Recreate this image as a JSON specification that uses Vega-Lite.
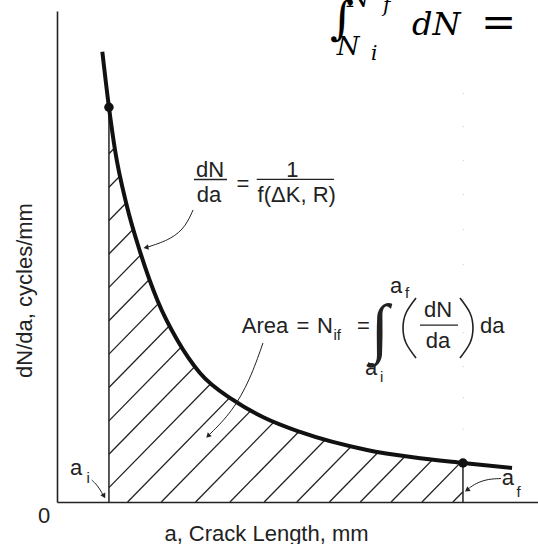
{
  "$schema": "https://vega.github.io/schema/vega-lite/v6.json",
  "width": 481,
  "height": 491,
  "autosize": {"type": "none"},
  "padding": {"left": 57, "top": 11, "right": 0, "bottom": 42},
  "config": {"view": {"stroke": null}, "font": "Liberation Sans", "text": {"color": "#222"}},
  "datasets": {
    "curve": [
      {"x": 4.71, "y": 45.86}, {"x": 5.4, "y": 40.2}, {"x": 6.03, "y": 35.85}, {"x": 7.25, "y": 30.2},
      {"x": 8.63, "y": 25.5}, {"x": 10.5, "y": 20.4}, {"x": 12.5, "y": 16.5}, {"x": 14.86, "y": 13.14},
      {"x": 18.3, "y": 10.39}, {"x": 21.5, "y": 8.6}, {"x": 25.26, "y": 7.13}, {"x": 32.22, "y": 5.3},
      {"x": 37.0, "y": 4.55}, {"x": 42.2, "y": 3.97}, {"x": 47.3, "y": 3.46}
    ],
    "hatch": [
      {"x": 7.34, "y": 0, "x2": 42.2, "y2": 34.86}, {"x": 10.84, "y": 0, "x2": 42.2, "y2": 31.36},
      {"x": 14.41, "y": 0, "x2": 42.2, "y2": 27.79}, {"x": 17.98, "y": 0, "x2": 42.2, "y2": 24.22},
      {"x": 21.54, "y": 0, "x2": 42.2, "y2": 20.66}, {"x": 24.93, "y": 0, "x2": 42.2, "y2": 17.27},
      {"x": 28.32, "y": 0, "x2": 42.2, "y2": 13.88}, {"x": 31.53, "y": 0, "x2": 42.2, "y2": 10.67},
      {"x": 34.73, "y": 0, "x2": 42.2, "y2": 7.47}, {"x": 37.94, "y": 0, "x2": 42.2, "y2": 4.26},
      {"x": 41.15, "y": 0, "x2": 42.2, "y2": 1.05},
      {"x": 5.4, "y": 1.46, "x2": 42.2, "y2": 38.26}, {"x": 5.4, "y": 4.86, "x2": 42.2, "y2": 41.66},
      {"x": 5.4, "y": 8.26, "x2": 41.14, "y2": 44}, {"x": 5.4, "y": 11.66, "x2": 37.74, "y2": 44},
      {"x": 5.4, "y": 15.06, "x2": 34.34, "y2": 44}, {"x": 5.4, "y": 18.46, "x2": 30.94, "y2": 44},
      {"x": 5.4, "y": 21.86, "x2": 27.54, "y2": 44}, {"x": 5.4, "y": 25.26, "x2": 24.14, "y2": 44},
      {"x": 5.4, "y": 28.66, "x2": 20.74, "y2": 44}, {"x": 5.4, "y": 32.06, "x2": 17.34, "y2": 44},
      {"x": 5.4, "y": 35.46, "x2": 13.94, "y2": 44}, {"x": 5.4, "y": 38.86, "x2": 10.54, "y2": 44}
    ],
    "limits": [
      {"x": 5.4, "y": 40.2, "y0": 0, "name": "ai"}, {"x": 42.2, "y": 3.97, "y0": 0, "name": "af"}
    ],
    "arrows": [
      {"id": 1, "i": 0, "x": 3.61, "y": 2.24}, {"id": 1, "i": 1, "x": 4.16, "y": 1.73}, {"id": 1, "i": 2, "x": 4.57, "y": 1.12}, {"id": 1, "i": 3, "x": 4.89, "y": 0.51},
      {"id": 2, "i": 0, "x": 46.15, "y": 2.39}, {"id": 2, "i": 1, "x": 44.8, "y": 2.34}, {"id": 2, "i": 2, "x": 43.56, "y": 1.93}, {"id": 2, "i": 3, "x": 42.72, "y": 1.32},
      {"id": 3, "i": 0, "x": 14.14, "y": 29.74}, {"id": 3, "i": 1, "x": 13.41, "y": 28.11}, {"id": 3, "i": 2, "x": 11.95, "y": 26.78}, {"id": 3, "i": 3, "x": 9.46, "y": 25.97},
      {"id": 4, "i": 0, "x": 21.41, "y": 16.19}, {"id": 4, "i": 1, "x": 20.06, "y": 12.42}, {"id": 4, "i": 2, "x": 18.19, "y": 9.16}, {"id": 4, "i": 3, "x": 15.9, "y": 6.92}
    ],
    "heads": [
      {"x": 4.89, "y": 0.61, "dir": 150}, {"x": 42.62, "y": 1.22, "dir": 235},
      {"x": 9.25, "y": 25.92, "dir": 260}, {"x": 15.7, "y": 6.72, "dir": 225}
    ],
    "parens": [
      {"id": "l", "i": 0, "x": 37.32, "y": 20.77}, {"id": "l", "i": 1, "x": 36.28, "y": 19.25}, {"id": "l", "i": 2, "x": 35.97, "y": 17.72}, {"id": "l", "i": 3, "x": 36.28, "y": 16.19}, {"id": "l", "i": 4, "x": 37.32, "y": 14.66},
      {"id": "r", "i": 0, "x": 41.89, "y": 20.77}, {"id": "r", "i": 1, "x": 42.93, "y": 19.25}, {"id": "r", "i": 2, "x": 43.24, "y": 17.72}, {"id": "r", "i": 3, "x": 42.93, "y": 16.19}, {"id": "r", "i": 4, "x": 41.89, "y": 14.66}
    ],
    "bars": [
      {"x": 14.24, "x2": 17.67, "y": 32.84}, {"x": 20.76, "x2": 28.79, "y": 32.86}, {"x": 37.73, "x2": 41.68, "y": 18.02}
    ],
    "textLeft": [
      {"x": 19.2, "y": 17.21, "t": "Area"}, {"x": 27.03, "y": 17.21, "t": "N"}, {"x": 43.97, "y": 17.21, "t": "da"},
      {"x": 34.62, "y": 21.25, "t": "a"}, {"x": 32.02, "y": 12.93, "t": "a"},
      {"x": 1.35, "y": 2.75, "t": "a"}, {"x": 46.23, "y": 1.73, "t": "a"}
    ],
    "textCenter": [
      {"x": 15.9, "y": 33.1, "t": "dN"}, {"x": 15.8, "y": 30.58, "t": "da"}, {"x": 19.33, "y": 31.72, "t": "="},
      {"x": 24.48, "y": 33.13, "t": "1"}, {"x": 24.92, "y": 30.58, "t": "f(ΔK, R)"},
      {"x": 25.57, "y": 17.21, "t": "="}, {"x": 31.86, "y": 17.21, "t": "="},
      {"x": 39.61, "y": 18.84, "t": "dN"}, {"x": 39.61, "y": 15.68, "t": "da"},
      {"x": -1.35, "y": -2.1, "t": "0"}
    ],
    "textSub": [
      {"x": 3.07, "y": 1.93, "t": "i"}, {"x": 47.77, "y": 0.51, "t": "f"}, {"x": 28.74, "y": 16.5, "t": "if"},
      {"x": 36.17, "y": 20.77, "t": "f"}, {"x": 33.58, "y": 12.25, "t": "i"}
    ],
    "integral": [{"x": 33.58, "y": 17.55, "t": "∫"}],
    "mathBig": [
      {"x": 36.9, "y": 47.56, "t": "dN"}
    ],
    "mathEq": [{"x": 44.07, "y": 47.31, "t": "="}],
    "mathInt": [{"x": 28.38, "y": 47.66, "t": "∫"}],
    "mathMid": [
      {"x": 29.07, "y": 45.52, "t": "N"}, {"x": 30.15, "y": 50.44, "t": "N"}
    ],
    "mathSmall": [
      {"x": 32.64, "y": 45.01, "t": "i"}, {"x": 33.89, "y": 49.9, "t": "f"}
    ]
  },
  "layer": [
    {
      "data": {"name": "hatch"},
      "mark": {"type": "rule", "color": "#222", "strokeWidth": 1.3},
      "encoding": {
        "x": {"field": "x", "type": "quantitative", "scale": {"domain": [0, 50], "nice": false, "zero": false},
          "axis": {"title": "a, Crack Length, mm", "ticks": false, "labels": false, "grid": false,
            "domainColor": "#222", "domainWidth": 1.6, "titleFont": "Liberation Sans", "titleFontSize": 22,
            "titleFontWeight": "normal", "titleColor": "#222", "titleX": 209, "titleY": 38,
            "titleBaseline": "alphabetic", "titleAlign": "center"}},
        "y": {"field": "y", "type": "quantitative", "scale": {"domain": [0, 50], "nice": false, "zero": false},
          "axis": {"title": "dN/da, cycles/mm", "ticks": false, "labels": false, "grid": false,
            "domainColor": "#222", "domainWidth": 1.6, "titleFont": "Liberation Sans", "titleFontSize": 22,
            "titleFontWeight": "normal", "titleColor": "#222", "titleX": -26, "titleY": 279,
            "titleAngle": 270, "titleBaseline": "alphabetic", "titleAlign": "center"}},
        "x2": {"field": "x2"},
        "y2": {"field": "y2"}
      }
    },
    {
      "data": {"name": "curve"},
      "transform": [{"filter": "datum.x >= 5.4 && datum.x <= 42.2"}],
      "mark": {"type": "area", "color": "white", "interpolate": "monotone", "opacity": 1},
      "encoding": {
        "x": {"field": "x", "type": "quantitative"},
        "y": {"field": "y", "type": "quantitative"},
        "y2": {"datum": 45}
      }
    },
    {
      "data": {"name": "limits"},
      "mark": {"type": "rule", "color": "#222", "strokeWidth": 1.5},
      "encoding": {
        "x": {"field": "x", "type": "quantitative"},
        "y": {"field": "y0", "type": "quantitative"},
        "y2": {"field": "y"}
      }
    },
    {
      "data": {"name": "curve"},
      "mark": {"type": "line", "color": "#111", "strokeWidth": 4, "interpolate": "monotone"},
      "encoding": {
        "x": {"field": "x", "type": "quantitative"},
        "y": {"field": "y", "type": "quantitative"}
      }
    },
    {
      "data": {"name": "limits"},
      "mark": {"type": "point", "filled": true, "color": "#111", "size": 90, "opacity": 1},
      "encoding": {
        "x": {"field": "x", "type": "quantitative"},
        "y": {"field": "y", "type": "quantitative"}
      }
    },
    {
      "data": {"name": "arrows"},
      "mark": {"type": "line", "color": "#222", "strokeWidth": 1, "interpolate": "basis"},
      "encoding": {
        "x": {"field": "x", "type": "quantitative"},
        "y": {"field": "y", "type": "quantitative"},
        "detail": {"field": "id", "type": "nominal"},
        "order": {"field": "i", "type": "quantitative"}
      }
    },
    {
      "data": {"name": "heads"},
      "mark": {"type": "point", "shape": "triangle-up", "filled": true, "color": "#222", "size": 32, "opacity": 1},
      "encoding": {
        "x": {"field": "x", "type": "quantitative"},
        "y": {"field": "y", "type": "quantitative"},
        "angle": {"field": "dir", "type": "quantitative", "scale": null}
      }
    },
    {
      "data": {"name": "parens"},
      "mark": {"type": "line", "color": "#222", "strokeWidth": 1.6, "interpolate": "natural"},
      "encoding": {
        "x": {"field": "x", "type": "quantitative"},
        "y": {"field": "y", "type": "quantitative"},
        "detail": {"field": "id", "type": "nominal"},
        "order": {"field": "i", "type": "quantitative"}
      }
    },
    {
      "data": {"name": "bars"},
      "mark": {"type": "rule", "color": "#222", "strokeWidth": 1.3},
      "encoding": {
        "x": {"field": "x", "type": "quantitative"},
        "x2": {"field": "x2"},
        "y": {"field": "y", "type": "quantitative"}
      }
    },
    {
      "data": {"name": "textLeft"},
      "mark": {"type": "text", "fontSize": 22, "align": "left", "baseline": "alphabetic"},
      "encoding": {
        "x": {"field": "x", "type": "quantitative"},
        "y": {"field": "y", "type": "quantitative"},
        "text": {"field": "t", "type": "nominal"}
      }
    },
    {
      "data": {"name": "textCenter"},
      "mark": {"type": "text", "fontSize": 22, "align": "center", "baseline": "alphabetic"},
      "encoding": {
        "x": {"field": "x", "type": "quantitative"},
        "y": {"field": "y", "type": "quantitative"},
        "text": {"field": "t", "type": "nominal"}
      }
    },
    {
      "data": {"name": "textSub"},
      "mark": {"type": "text", "fontSize": 15, "align": "left", "baseline": "alphabetic"},
      "encoding": {
        "x": {"field": "x", "type": "quantitative"},
        "y": {"field": "y", "type": "quantitative"},
        "text": {"field": "t", "type": "nominal"}
      }
    },
    {
      "data": {"name": "integral"},
      "mark": {"type": "text", "font": "Liberation Serif", "fontSize": 66, "align": "center", "baseline": "middle"},
      "encoding": {
        "x": {"field": "x", "type": "quantitative"},
        "y": {"field": "y", "type": "quantitative"},
        "text": {"field": "t", "type": "nominal"}
      }
    },
    {
      "data": {"name": "mathBig"},
      "mark": {"type": "text", "font": "DejaVu Serif", "fontStyle": "italic", "fontSize": 32, "align": "left", "baseline": "alphabetic", "color": "#000"},
      "encoding": {
        "x": {"field": "x", "type": "quantitative"},
        "y": {"field": "y", "type": "quantitative"},
        "text": {"field": "t", "type": "nominal"}
      }
    },
    {
      "data": {"name": "mathEq"},
      "mark": {"type": "text", "font": "DejaVu Serif", "fontSize": 42, "align": "left", "baseline": "alphabetic", "color": "#000"},
      "encoding": {
        "x": {"field": "x", "type": "quantitative"},
        "y": {"field": "y", "type": "quantitative"},
        "text": {"field": "t", "type": "nominal"}
      }
    },
    {
      "data": {"name": "mathInt"},
      "mark": {"type": "text", "font": "DejaVu Serif", "fontStyle": "italic", "fontSize": 46, "align": "left", "baseline": "alphabetic", "color": "#000"},
      "encoding": {
        "x": {"field": "x", "type": "quantitative"},
        "y": {"field": "y", "type": "quantitative"},
        "text": {"field": "t", "type": "nominal"}
      }
    },
    {
      "data": {"name": "mathMid"},
      "mark": {"type": "text", "font": "DejaVu Serif", "fontStyle": "italic", "fontSize": 26, "align": "left", "baseline": "alphabetic", "color": "#000"},
      "encoding": {
        "x": {"field": "x", "type": "quantitative"},
        "y": {"field": "y", "type": "quantitative"},
        "text": {"field": "t", "type": "nominal"}
      }
    },
    {
      "data": {"name": "mathSmall"},
      "mark": {"type": "text", "font": "DejaVu Serif", "fontStyle": "italic", "fontSize": 20, "align": "left", "baseline": "alphabetic", "color": "#000"},
      "encoding": {
        "x": {"field": "x", "type": "quantitative"},
        "y": {"field": "y", "type": "quantitative"},
        "text": {"field": "t", "type": "nominal"}
      }
    }
  ]
}
